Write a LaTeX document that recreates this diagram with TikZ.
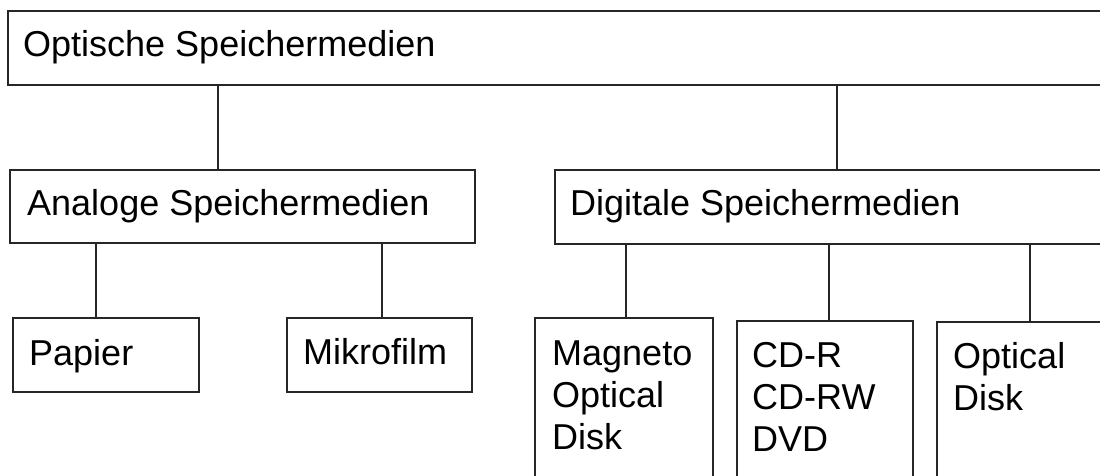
\documentclass[tikz,border=0pt]{standalone}
\usepackage{fontspec}
\setmainfont{Liberation Sans}
\begin{document}
\begin{tikzpicture}[x=1pt,y=-1pt,
  box/.style={draw=black!85, line width=1.6pt, inner sep=0pt, anchor=north west},
  link/.style={draw=black!85, line width=1.3pt},
  txt/.style={anchor=base west, inner sep=0pt, align=left,
              font=\fontsize{36}{42}\selectfont}]
  \useasboundingbox (0,0) rectangle (1100,475);
  \clip (0,0) rectangle (1100,475);

  % boxes
  \node[box, minimum width=1108pt, minimum height=74pt] (top) at (7,10) {};
  \node[box, minimum width=465pt, minimum height=73pt] (ana) at (9,169) {};
  \node[box, minimum width=560pt, minimum height=74pt] (dig) at (554,169) {};
  \node[box, minimum width=186pt, minimum height=74pt] (pap) at (12,317) {};
  \node[box, minimum width=185pt, minimum height=74pt] (mik) at (286,317) {};
  \node[box, minimum width=178pt, minimum height=170pt] (mag) at (534,317) {};
  \node[box, minimum width=176pt, minimum height=170pt] (cd) at (736,320) {};
  \node[box, minimum width=180pt, minimum height=170pt] (opt) at (936,321) {};

  % labels (base anchor sits on the last line of a multi-line label)
  \node[txt] at (23,56) {Optische Speichermedien};
  \node[txt] at (27,215) {Analoge Speichermedien};
  \node[txt] at (570,215) {Digitale Speichermedien};
  \node[txt] at (29,365) {Papier};
  \node[txt] at (303,364) {Mikrofilm};
  \node[txt] at (552,449) {Magneto\\Optical\\Disk};
  \node[txt] at (752,451) {CD-R\\CD-RW\\DVD};
  \node[txt] at (953,410) {Optical\\Disk};

  % connector columns
  \coordinate (xa) at (218,0);
  \coordinate (xd) at (837,0);
  \coordinate (xp) at (96,0);
  \coordinate (xm) at (382,0);
  \coordinate (xg) at (626,0);
  \coordinate (xc) at (829,0);
  \coordinate (xo) at (1030,0);

  \draw[link] (top.south -| xa) -- (ana.north -| xa);
  \draw[link] (top.south -| xd) -- (dig.north -| xd);
  \draw[link] (ana.south -| xp) -- (pap.north -| xp);
  \draw[link] (ana.south -| xm) -- (mik.north -| xm);
  \draw[link] (dig.south -| xg) -- (mag.north -| xg);
  \draw[link] (dig.south -| xc) -- (cd.north -| xc);
  \draw[link] (dig.south -| xo) -- (opt.north -| xo);
\end{tikzpicture}
\end{document}
